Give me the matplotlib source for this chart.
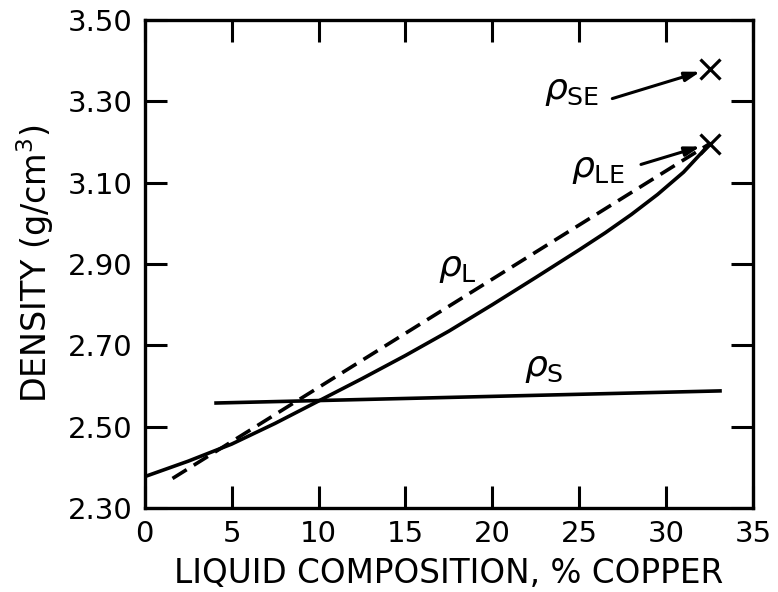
import numpy as np
import matplotlib
matplotlib.use('Agg')
import matplotlib.pyplot as plt

plt.rcParams['font.family'] = 'DejaVu Sans'
plt.rcParams['mathtext.fontset'] = 'dejavusans'
plt.rcParams['lines.scale_dashes'] = False

# liquid density along the liquidus (solid curve)
comp_L = [0, 2.5, 5, 7.5, 10, 12.5, 15, 17.5, 20, 22.5, 25, 26.5, 28,
          29.5, 31, 32, 32.5]
rho_L = [2.377, 2.415, 2.457, 2.508, 2.563, 2.618, 2.675, 2.735, 2.800,
         2.867, 2.935, 2.977, 3.022, 3.071, 3.126, 3.172, 3.196]

# dashed straight line
comp_dash = [1.6, 32.5]
rho_dash = [2.3725, 3.196]

# solid density
comp_S = [4.0, 33.2]
rho_S = [2.558, 2.588]

# eutectic points
comp_E = 32.5
rho_LE = 3.196
rho_SE = 3.38

xticks = [0, 5, 10, 15, 20, 25, 30, 35]
yticks = [2.30, 2.50, 2.70, 2.90, 3.10, 3.30, 3.50]

fig = plt.figure(figsize=(7.78, 5.92), dpi=100)
ax = fig.add_axes([0.186, 0.142, 0.782, 0.824])

ax.plot(comp_L, rho_L, color='k', lw=2.6, solid_capstyle='butt')
ax.plot(comp_dash, rho_dash, color='k', lw=2.6, dashes=(12, 6))
ax.plot(comp_S, rho_S, color='k', lw=2.6, solid_capstyle='butt')
ax.plot([comp_E, comp_E], [rho_LE, rho_SE], ls='none', marker='x',
        ms=14, mew=2.3, color='k')

arrow = dict(arrowstyle='-|>,head_length=0.9,head_width=0.28', lw=2.2,
             color='k', shrinkA=0, shrinkB=7)
ax.annotate('', xy=(comp_E, rho_SE), xytext=(26.9, 3.307), arrowprops=arrow)
ax.annotate('', xy=(comp_E, rho_LE), xytext=(28.55, 3.145), arrowprops=arrow)

lab = dict(fontsize=26, ha='left', va='center')
ax.text(22.97, 3.325, r'$\rho_{\mathrm{SE}}$', **lab)
ax.text(24.5, 3.135, r'$\rho_{\mathrm{LE}}$', **lab)
ax.text(16.9, 2.89, r'$\rho_{\mathrm{L}}$', **lab)
ax.text(21.8, 2.645, r'$\rho_{\mathrm{S}}$', **lab)

ax.set_xlim(0, 35)
ax.set_ylim(2.30, 3.50)
ax.set_xticks(xticks)
ax.set_xticklabels([str(t) for t in xticks])
ax.set_yticks(yticks)
ax.set_yticklabels(['%.2f' % t for t in yticks])
ax.tick_params(direction='in', length=16, width=2.2, top=True, right=True,
               labelsize=21, pad=9)
for s in ax.spines.values():
    s.set_linewidth(2.4)

ax.set_xlabel('LIQUID COMPOSITION, % COPPER', fontsize=23.5, labelpad=6)
ax.set_ylabel('DENSITY (g/cm$^3$)', fontsize=24, labelpad=8)

fig.savefig('out.png', dpi=100)
